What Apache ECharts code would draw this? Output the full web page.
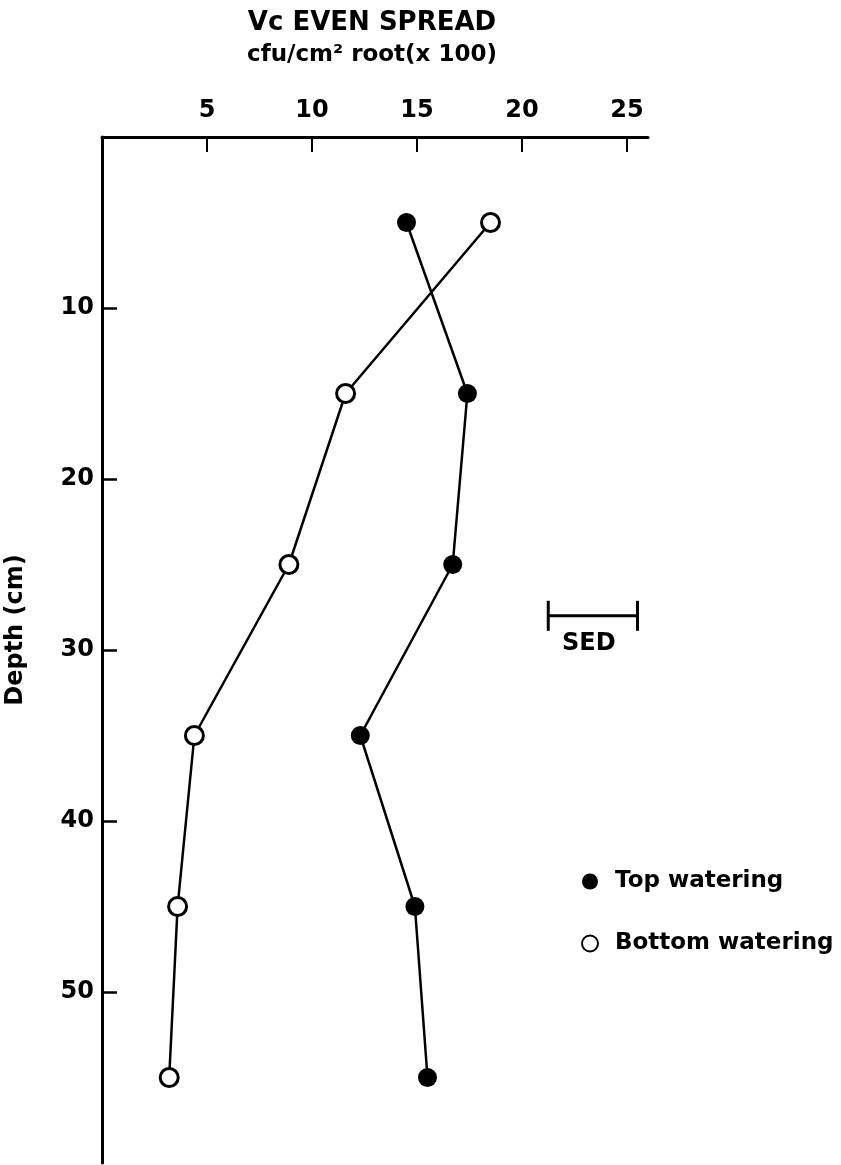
<!DOCTYPE html>
<html>
<head>
<meta charset="utf-8">
<script src="https://cdn.jsdelivr.net/npm/echarts@6/dist/echarts.min.js"></script>
<style>
  html, body { margin: 0; padding: 0; background: #fff; }
  #chart { width: 841px; height: 1165px; }
</style>
</head>
<body>
<div id="chart"></div>
<script>
// Sampling depths (cm) and root colonisation values, cfu/cm² root (x 100)
const depths = [5, 15, 25, 35, 45, 55];
const topWatering = [14.5, 17.4, 16.7, 12.3, 14.9, 15.5];
const bottomWatering = [18.5, 11.6, 8.9, 4.4, 3.6, 3.2];

// Axis tick labels
const xTicks = [5, 10, 15, 20, 25];
const yTicks = [10, 20, 30, 40, 50];

// Standard error of difference bar: start value, length, depth
const sedStart = 21.25;
const sedValue = 4.25;
const sedDepth = 28;

const FONT = '"DejaVu Sans", sans-serif';
const INK = '#000';

const chart = echarts.init(document.getElementById('chart'), null, { renderer: 'canvas' });

const option = {
  animation: false,
  backgroundColor: '#fff',
  grid: { left: 102, right: 193, top: 137, bottom: 2, containLabel: false },
  graphic: [
    {
      type: 'text', x: 372, y: 23,
      style: { text: 'Vc EVEN SPREAD', align: 'center', verticalAlign: 'middle',
               font: 'bold 26px ' + FONT, fill: INK }
    },
    {
      type: 'text', x: 372, y: 55,
      style: { text: 'cfu/cm² root(x 100)', align: 'center', verticalAlign: 'middle',
               font: 'bold 23px ' + FONT, fill: INK }
    },
    {
      type: 'text', x: 16, y: 630, rotation: Math.PI / 2,
      style: { text: 'Depth (cm)', align: 'center', verticalAlign: 'middle',
               font: 'bold 24px ' + FONT, fill: INK }
    }
  ],
  legend: {
    orient: 'vertical',
    left: 576,
    top: 865,
    itemGap: 39,
    itemWidth: 16,
    itemHeight: 16,
    icon: 'circle',
    data: ['Top watering', 'Bottom watering'],
    textStyle: { fontFamily: FONT, fontWeight: 'bold', fontSize: 23, color: INK, padding: [0, 0, 0, 12] }
  },
  xAxis: {
    type: 'value',
    position: 'top',
    min: 0,
    max: 26,
    interval: 5,
    axisLine: { show: true, onZero: false, lineStyle: { color: INK, width: 3 } },
    axisTick: { show: true, inside: true, length: 15, customValues: xTicks,
                lineStyle: { color: INK, width: 2 } },
    axisLabel: { show: true, margin: 14, customValues: xTicks,
                 fontFamily: FONT, fontWeight: 'bold', fontSize: 24, color: INK },
    splitLine: { show: false }
  },
  yAxis: {
    type: 'value',
    inverse: true,
    min: 0,
    max: 60,
    interval: 10,
    axisLine: { show: true, onZero: false, lineStyle: { color: INK, width: 3 } },
    axisTick: { show: true, inside: true, length: 15, customValues: yTicks,
                lineStyle: { color: INK, width: 2.5 } },
    axisLabel: { show: true, margin: 8, customValues: yTicks,
                 fontFamily: FONT, fontWeight: 'bold', fontSize: 24, color: INK },
    splitLine: { show: false }
  },
  series: [
    {
      name: 'Top watering',
      type: 'line',
      data: depths.map((d, i) => [topWatering[i], d]),
      symbol: 'circle',
      symbolSize: 19,
      itemStyle: { color: INK },
      lineStyle: { color: INK, width: 2.5 },
      z: 3
    },
    {
      name: 'Bottom watering',
      type: 'line',
      data: depths.map((d, i) => [bottomWatering[i], d]),
      symbol: 'circle',
      symbolSize: 18,
      itemStyle: { color: '#fff', borderColor: INK, borderWidth: 3 },
      lineStyle: { color: INK, width: 2.5 },
      z: 3
    },
    {
      name: 'SED',
      type: 'custom',
      data: [[sedStart, sedDepth, sedValue]],
      renderItem: function (params, api) {
        const p0 = api.coord([api.value(0), api.value(1)]);
        const p1 = api.coord([api.value(0) + api.value(2), api.value(1)]);
        const cap = 15;
        const st = { stroke: INK, lineWidth: 3 };
        return {
          type: 'group',
          children: [
            { type: 'line', shape: { x1: p0[0], y1: p0[1], x2: p1[0], y2: p1[1] }, style: st },
            { type: 'line', shape: { x1: p0[0], y1: p0[1] - cap, x2: p0[0], y2: p0[1] + cap }, style: st },
            { type: 'line', shape: { x1: p1[0], y1: p1[1] - cap, x2: p1[0], y2: p1[1] + cap }, style: st },
            { type: 'text', style: { text: 'SED', x: (p0[0] + p1[0]) / 2 - 4, y: p0[1] + 16,
                align: 'center', verticalAlign: 'top', font: 'bold 24px ' + FONT, fill: INK } }
          ]
        };
      }
    }
  ]
};

chart.setOption(option);
</script>
</body>
</html>
